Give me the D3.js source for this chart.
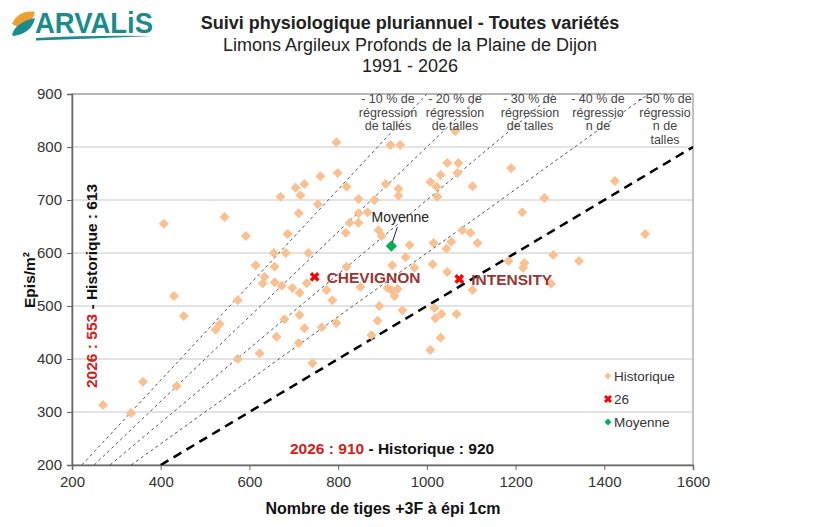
<!DOCTYPE html>
<html><head><meta charset="utf-8">
<script src="https://cdn.jsdelivr.net/npm/d3@7"></script>
<style>body{margin:0;background:#fff}svg{display:block}text{font-family:"Liberation Sans",Arial,sans-serif}</style>
</head><body><svg id="c" width="820" height="527"></svg>
<script>
const histX=[270,333,360,407,430,436,452,524,533,544,574,574,592,614,623,630,634,655,657,657,661,670,673,679,682,686,697,704,711,711,713,713,715,724,724,729,733,742,754,760,763,774,787,796,796,799,817,819,819,826,846,846,846,850,866,875,882,889,891,893,898,907,911,918,920,922,927,934,936,936,940,945,952,961,972,1008,1008,1013,1015,1017,1019,1022,1024,1031,1031,1033,1044,1046,1046,1055,1064,1067,1069,1071,1080,1098,1103,1103,1114,1184,1190,1215,1217,1220,1265,1280,1285,1343,1424,1492];
const histY=[313,298,357,655,519,349,481,455,466,668,511,400,632,577,411,543,555,600,574,545,442,706,538,475,600,636,534,723,675,430,525,483,709,730,458,543,600,392,692,745,460,530,511,809,468,751,638,725,574,657,702,675,657,536,677,445,700,472,643,500,632,730,534,804,530,577,519,532,721,708,804,492,592,615,572,734,417,579,619,496,477,725,706,747,440,485,608,770,564,621,830,485,751,770,643,638,726,530,619,585,760,677,572,581,704,542,596,585,736,636];
const varNames=["CHEVIGNON","INTENSITY"];
const varX=[747,1073];
const varY=[555,551];
const meanX=[920];
const meanY=[613];
const ratios=[0.9,0.8,0.7,0.6,0.5];
const regLabels=[["- 10 % de","régression","de talles"],["- 20 % de","régression","de talles"],["- 30 % de","régression","de talles"],["- 40 % de","régressio","n de"],["- 50 % de","régressio","n de","talles"]];
const regLabelX=[388,455,530,598,665];
const xTicks=[200,400,600,800,1000,1200,1400,1600];
const yTicks=[200,300,400,500,600,700,800,900];
const legendLabels=["Historique","26","Moyenne"];

const svg=d3.select("#c");
const L=72,R=693,T=94,B=465;
const x=d3.scaleLinear().domain([200,1600]).range([L,R]);
const y=d3.scaleLinear().domain([200,900]).range([B,T]);

// logo
const logo=svg.append("g");
logo.append("path").attr("d","M12,24 C16,14 26,10 35,12 C33,20 27,26 18,27 Z").attr("fill","#f0a030");
logo.append("path").attr("d","M12,35 C14,26 24,20 35,18 C33,28 26,34 14,36 Z").attr("fill","#1a8c8c");
logo.append("text").attr("x",35).attr("y",33).attr("font-size",29).attr("font-weight","bold").attr("fill","#1a8c8c").attr("textLength",118).attr("lengthAdjust","spacingAndGlyphs").text("ARVALiS");
logo.append("path").attr("d","M36,38 Q90,35 152,36 Q90,38.5 36,40.5 Z").attr("fill","#1a8c8c");

// titles
svg.append("text").attr("x",410).attr("y",29).attr("text-anchor","middle").attr("font-size",18).attr("font-weight","bold").attr("fill","#222").text("Suivi physiologique pluriannuel - Toutes variétés");
svg.append("text").attr("x",410).attr("y",51).attr("text-anchor","middle").attr("font-size",18).attr("fill","#222").text("Limons Argileux Profonds de la Plaine de Dijon");
svg.append("text").attr("x",410).attr("y",72).attr("text-anchor","middle").attr("font-size",18).attr("fill","#222").text("1991 - 2026");

// grid
svg.append("g").selectAll("line").data(yTicks.slice(1)).join("line")
 .attr("x1",L).attr("x2",R).attr("y1",d=>y(d)).attr("y2",d=>y(d)).attr("stroke","#c8c8c8").attr("stroke-width",1);
svg.append("rect").attr("x",L).attr("y",T).attr("width",R-L).attr("height",B-T).attr("fill","none").attr("stroke","#999").attr("stroke-width",1.2);

// axes
const gx=svg.append("g").attr("transform",`translate(0,${B})`).call(d3.axisBottom(x).tickValues(xTicks).tickFormat(d3.format("d")).tickSize(5).tickPadding(6));
const gy=svg.append("g").attr("transform",`translate(${L},0)`).call(d3.axisLeft(y).tickValues(yTicks).tickFormat(d3.format("d")).tickSize(5).tickPadding(5));
[gx,gy].forEach(g=>{g.select(".domain").attr("stroke","#666").attr("stroke-width",1.5);g.selectAll(".tick line").attr("stroke","#666");g.selectAll("text").attr("font-size",15).attr("fill","#333").attr("font-family","Liberation Sans,Arial,sans-serif");});

// clip
svg.append("clipPath").attr("id","clip").append("rect").attr("x",L).attr("y",T).attr("width",R-L).attr("height",B-T);
const plot=svg.append("g").attr("clip-path","url(#clip)");

// regression lines
ratios.forEach((r,i)=>{
  const x0=200/r, x1=Math.min(1600,900/r);
  const thick=i===ratios.length-1;
  plot.append("line").attr("x1",x(x0)).attr("y1",y(200)).attr("x2",x(x1)).attr("y2",y(r*x1))
   .attr("stroke",thick?"#000":"#555").attr("stroke-width",thick?2.5:1).attr("stroke-dasharray",thick?"9,6":"3,3");
});

// historical points
const diamond=d3.symbol().type(d3.symbolSquare).size(50);
plot.append("g").selectAll("path").data(histX.map((v,i)=>[v,histY[i]])).join("path")
 .attr("d",diamond).attr("transform",d=>`translate(${x(d[0])},${y(d[1])}) rotate(45)`).attr("fill","#FAC090");

// regression labels
regLabels.forEach((lines,i)=>{
  lines.forEach((s,j)=>{
    svg.append("text").attr("x",regLabelX[i]).attr("y",103+j*13.5).attr("text-anchor","middle").attr("font-size",12.5).attr("fill","#444").text(s);
  });
});

// mean point
plot.append("path").attr("d",d3.symbol().type(d3.symbolSquare).size(64)).attr("transform",`translate(${x(meanX[0])},${y(meanY[0])}) rotate(45)`).attr("fill","#00B050");
svg.append("text").attr("x",x(meanX[0])+9).attr("y",y(meanY[0])-24).attr("text-anchor","middle").attr("font-size",14).attr("fill","#222").text("Moyenne");
svg.append("line").attr("x1",x(meanX[0])+6).attr("y1",y(meanY[0])-19).attr("x2",x(meanX[0])+1).attr("y2",y(meanY[0])-4).attr("stroke","#222").attr("stroke-width",1);

// variety X marks
const cross=d3.symbol().type(d3.symbolCross).size(60);
varX.forEach((v,i)=>{
  svg.append("path").attr("d",cross).attr("transform",`translate(${x(v)},${y(varY[i])}) rotate(45)`).attr("fill","#f00");
  svg.append("text").attr("x",x(v)+12).attr("y",y(varY[i])+6).attr("font-size",15.5).attr("font-weight","bold").attr("fill","#953735").text(varNames[i]);
});

// legend
const lg=svg.append("g");
lg.append("path").attr("d",d3.symbol().type(d3.symbolSquare).size(24)).attr("transform","translate(608,376) rotate(45)").attr("fill","#FAC090");
lg.append("path").attr("d",d3.symbol().type(d3.symbolCross).size(40)).attr("transform","translate(608,399) rotate(45)").attr("fill","#f00");
lg.append("path").attr("d",d3.symbol().type(d3.symbolSquare).size(24)).attr("transform","translate(608,422) rotate(45)").attr("fill","#00B050");
legendLabels.forEach((s,i)=>lg.append("text").attr("x",614).attr("y",381+i*23).attr("font-size",13.5).attr("fill","#333").text(s));

// summary texts
const bt=svg.append("text").attr("x",290).attr("y",454).attr("font-size",15.5).attr("font-weight","bold");
bt.append("tspan").attr("fill","#d02020").text("2026 : "+d3.mean(varX));
bt.append("tspan").attr("fill","#111").text("  - Historique : "+meanX[0]);
const vt=svg.append("text").attr("transform","translate(97,388) rotate(-90)").attr("font-size",15.5).attr("font-weight","bold");
vt.append("tspan").attr("fill","#d02020").text("2026 : "+d3.mean(varY));
vt.append("tspan").attr("fill","#111").text("  - Historique : "+meanY[0]);

// axis titles
svg.append("text").attr("x",383).attr("y",514).attr("text-anchor","middle").attr("font-size",16).attr("font-weight","bold").attr("fill","#111").text("Nombre de tiges +3F à épi 1cm");
svg.append("text").attr("transform","translate(35,280) rotate(-90)").attr("text-anchor","middle").attr("font-size",15.5).attr("font-weight","bold").attr("fill","#111").text("Epis/m²");
</script></body></html>
